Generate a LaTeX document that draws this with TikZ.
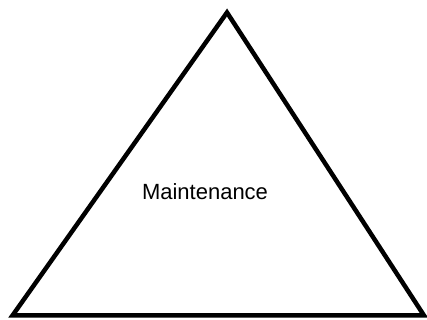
\documentclass[tikz,border=0pt]{standalone}
\usepackage{fontspec}
\setmainfont{Liberation Sans}
\begin{document}
\begin{tikzpicture}[x=1pt,y=1pt]
\useasboundingbox (0,0) rectangle (427,320);
\coordinate (top) at (227,307.5);
\coordinate (bl) at (12.5,4.5);
\coordinate (br) at (424,4.5);
\draw[line width=4.5pt,line join=miter] (top) -- (bl) -- (br) -- cycle;
\node[font=\fontsize{22}{26}\selectfont,anchor=base,inner sep=0pt] (lbl) at (205,120) {Maintenance};
\end{tikzpicture}
\end{document}
